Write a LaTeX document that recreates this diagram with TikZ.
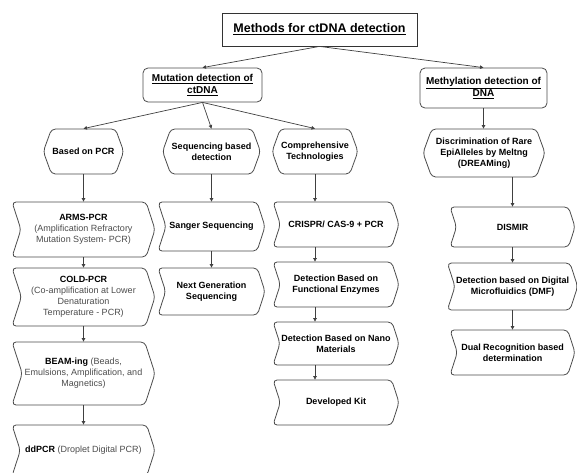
\documentclass[tikz,border=0pt]{standalone}
\usepackage{fontspec}
\setmainfont{Liberation Sans}
\usetikzlibrary{arrows.meta, shapes.symbols}

\newcommand{\lighttext}[1]{{\mdseries\color{black!70}#1}}

\begin{document}
\begin{tikzpicture}[
  x=1pt, y=-1pt,
  font=\fontsize{9}{11}\selectfont\bfseries,
  headbox/.style={
    draw=black!80,
    fill=white,
    line width=0.8pt,
    align=center,
    inner sep=2pt,
    font=\fontsize{12.5}{15}\selectfont\bfseries
  },
  groupbox/.style={
    draw=black!70,
    fill=white,
    rounded corners=5pt,
    line width=0.8pt,
    align=center,
    inner sep=2pt,
    font=\fontsize{10}{12}\selectfont\bfseries
  },
  hexbox/.style={
    signal,
    signal to=east and west,
    signal pointer angle=140,
    draw=black!70,
    fill=white,
    rounded corners=4pt,
    line width=0.8pt,
    align=center,
    inner sep=1pt
  },
  stepbox/.style={
    signal,
    signal from=west,
    signal to=east,
    signal pointer angle=144,
    draw=black!70,
    fill=white,
    rounded corners=4pt,
    line width=0.8pt,
    align=center,
    inner sep=1pt
  },
  link/.style={
    draw=black!75,
    line width=0.7pt,
    -{Triangle[length=3.5pt, width=3.5pt]}
  }
]

\useasboundingbox (0,0) rectangle (577,472);

% Title
\node[headbox, minimum width=195pt, minimum height=33pt] (title) at (319.5,29.5)
{\underline{Methods for ctDNA detection}};

% -------------------------------------------------------------------
% Main branches
% -------------------------------------------------------------------
\node[groupbox, minimum width=119pt, minimum height=34pt] (mut) at (202.5,85)
{\underline{Mutation detection of}\\\underline{ctDNA}};

\node[groupbox, minimum width=127pt, minimum height=40pt] (meth) at (483.5,88)
{\underline{Methylation detection of}\\\underline{DNA}};

% -------------------------------------------------------------------
% Sub-branches
% -------------------------------------------------------------------
\node[hexbox, minimum width=77pt, minimum height=45pt] (pcr) at (83.5,151.5)
{Based on PCR};

\node[hexbox, minimum width=88pt, minimum height=45pt] (seq) at (211.5,151.5)
{Sequencing based\\detection};

\node[hexbox, minimum width=84pt, minimum height=45pt] (comp) at (315,151.5)
{Comprehensive\\Technologies};

\node[hexbox, minimum width=122pt, minimum height=48pt] (dream) at (484,153)
{Discrimination of Rare\\EpiAlleles by Meltng\\(DREAMing)};

% -------------------------------------------------------------------
% PCR based methods
% -------------------------------------------------------------------
\node[stepbox, minimum width=143pt, minimum height=55pt] (arms) at (83.5,229.5)
{ARMS-PCR\\\lighttext{(Amplification Refractory}\\\lighttext{Mutation System- PCR)}};

\node[stepbox, minimum width=143pt, minimum height=58pt] (cold) at (83.5,297)
{COLD-PCR\\\lighttext{(Co-amplification at Lower}\\\lighttext{Denaturation}\\\lighttext{Temperature - PCR)}};

\node[stepbox, minimum width=143pt, minimum height=63pt] (beam) at (83.5,373.5)
{BEAM-ing \lighttext{(Beads,}\\\lighttext{Emulsions, Amplification, and}\\\lighttext{Magnetics)}};

\node[stepbox, minimum width=143pt, minimum height=51pt] (ddpcr) at (83.5,450.5)
{ddPCR \lighttext{(Droplet Digital PCR)}};

% -------------------------------------------------------------------
% Sequencing based methods
% -------------------------------------------------------------------
\node[stepbox, minimum width=107pt, minimum height=49pt] (sanger) at (211.5,226.5)
{Sanger Sequencing};

\node[stepbox, minimum width=107pt, minimum height=47pt] (ngs) at (211.5,291.5)
{Next Generation\\Sequencing};

% -------------------------------------------------------------------
% Comprehensive technologies
% -------------------------------------------------------------------
\node[stepbox, minimum width=126pt, minimum height=45pt] (crispr) at (336,224.5)
{CRISPR/ CAS-9 + PCR};

\node[stepbox, minimum width=126pt, minimum height=45pt] (enz) at (336,284.5)
{Detection Based on\\Functional Enzymes};

\node[stepbox, minimum width=126pt, minimum height=43pt] (nano) at (336,343.5)
{Detection Based on Nano\\Materials};

\node[stepbox, minimum width=126pt, minimum height=45pt] (kit) at (336,402.5)
{Developed Kit};

% -------------------------------------------------------------------
% Methylation methods
% -------------------------------------------------------------------
\node[stepbox, minimum width=125pt, minimum height=40pt] (dismir) at (512.5,227)
{DISMIR};

\node[stepbox, minimum width=125pt, minimum height=47pt] (dmf) at (512.5,286.5)
{Detection based on Digital\\Microfluidics (DMF)};

\node[stepbox, minimum width=125pt, minimum height=45pt] (dual) at (512.5,352.5)
{Dual Recognition based\\determination};

% Connectors
\draw[link] (title.south) -- (mut.north);
\draw[link] (title.south) -- (meth.north);
\foreach \to in {pcr, seq, comp}
  \draw[link] (mut.south) -- (\to.north);
\draw[link] (meth.south) -- (meth.south |- dream.north);

\foreach \from/\to in {pcr/arms, arms/cold, cold/beam, beam/ddpcr, seq/sanger, sanger/ngs}
  \draw[link] (\from.south) -- (\to.north);

\foreach \from/\to in {comp/crispr, crispr/enz, enz/nano, nano/kit}
  \draw[link] (\from.south -| comp.south) -- (\to.north -| comp.south);

\draw[link] (dream.south -| dismir.north) -- (dismir.north);
\foreach \from/\to in {dismir/dmf, dmf/dual}
  \draw[link] (\from.south) -- (\to.north);

\end{tikzpicture}
\end{document}
